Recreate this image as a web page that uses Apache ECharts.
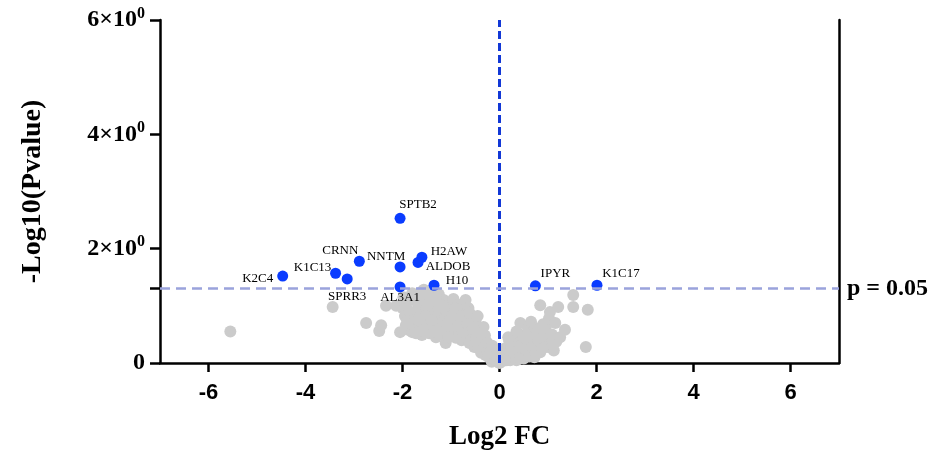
<!DOCTYPE html>
<html>
<head>
<meta charset="utf-8">
<script src="https://cdn.jsdelivr.net/npm/echarts@6/dist/echarts.min.js"></script>
<style>
  html, body { margin: 0; padding: 0; background: #fff; }
  #chart { width: 938px; height: 456px; }
</style>
</head>
<body>
<div id="chart"></div>
<script>
// significant proteins (blue)
const hitNames = ['SPTB2', 'CRNN', 'NNTM', 'H2AW', 'ALDOB', 'K1C13', 'K2C4', 'SPRR3', 'AL3A1', 'H10', 'IPYR', 'K1C17']
const hitX = [-2.05, -2.89, -2.05, -1.60, -1.68, -3.38, -4.47, -3.14, -2.05, -1.35, 0.74, 2.01]
const hitY = [2.53, 1.78, 1.68, 1.85, 1.76, 1.57, 1.52, 1.47, 1.33, 1.36, 1.35, 1.36]

// non significant proteins (grey) [log2FC, -log10 p]
const greyPoints = [
  [-5.55, 0.55], [-3.44, 0.98], [-2.75, 0.70], [-2.44, 0.66], [-2.48, 0.56],
  [-2.34, 1.00], [-2.00, 0.96], [-2.05, 0.54], [-2.13, 1.00],
  [-1.93, 1.00], [-1.95, 0.82], [-1.88, 0.58], [-1.85, 0.90], [-1.78, 1.10], [-1.75, 0.78],
  [-1.70, 0.92], [-1.70, 0.60], [-1.66, 1.01], [-1.65, 1.18], [-1.62, 0.85], [-1.58, 0.68],
  [-1.55, 1.10], [-1.56, 1.28], [-1.50, 0.95], [-1.48, 0.72], [-1.45, 0.52], [-1.42, 0.62],
  [-1.41, 1.19], [-1.38, 0.88], [-1.35, 1.25], [-1.30, 1.00], [-1.28, 0.75], [-1.25, 1.20],
  [-1.22, 0.60], [-1.20, 0.90], [-1.15, 1.10], [-1.12, 0.80], [-1.08, 0.68], [-1.05, 1.05],
  [-1.02, 0.55], [-1.00, 0.92], [-0.95, 1.12], [-0.95, 0.75], [-0.92, 0.62], [-0.88, 0.85],
  [-0.85, 1.02], [-0.82, 0.55], [-0.80, 0.70], [-0.78, 0.40], [-0.75, 0.90], [-0.72, 0.62],
  [-0.70, 1.10], [-0.68, 0.78], [-0.64, 0.96], [-0.62, 0.35], [-0.60, 0.55], [-0.58, 0.82],
  [-0.55, 0.45], [-0.52, 0.28], [-0.50, 0.72], [-0.45, 0.50], [-0.42, 0.38], [-0.40, 0.60],
  [-1.93, 0.66], [-1.80, 0.54], [-1.60, 0.49], [-1.31, 0.45], [-1.11, 0.35], [-0.90, 0.44],
  [-0.70, 0.49], [-0.49, 0.66], [-0.33, 0.63], [-0.43, 0.26], [-0.29, 0.14], [-0.16, 0.02],
  [-0.38, 0.18], [-0.35, 0.45], [-0.32, 0.30], [-0.28, 0.38], [-0.25, 0.22], [-0.22, 0.10],
  [-0.20, 0.30], [-0.18, 0.15], [-0.14, 0.22], [-0.12, 0.08], [-0.10, 0.15], [-0.08, 0.05],
  [-0.05, 0.10], [-0.03, 0.03], [0.00, 0.00],
  [-1.98, 1.15], [-1.90, 0.74], [-1.82, 0.68], [-1.80, 1.22], [-1.72, 0.52], [-1.68, 0.75],
  [-1.60, 1.25], [-1.55, 0.58], [-1.52, 0.82], [-1.45, 1.05], [-1.40, 0.75], [-1.35, 0.55],
  [-1.32, 1.12], [-1.25, 0.95], [-1.18, 0.50], [-1.18, 1.00], [-1.10, 0.92], [-1.05, 0.45],
  [-1.00, 0.65], [-0.98, 0.82], [-0.90, 0.95], [-0.85, 0.65], [-0.82, 0.45], [-0.78, 0.82],
  [-0.75, 0.55], [-0.65, 0.68], [-0.62, 0.88], [-0.58, 0.40], [-0.55, 0.62], [-0.48, 0.42],
  [-0.45, 0.82], [-0.38, 0.52], [-0.30, 0.48], [-0.25, 0.35], [-0.20, 0.18], [-0.15, 0.30],
  [-0.10, 0.22], [-0.06, 0.15],
  [0.03, 0.02], [0.05, 0.08], [0.08, 0.04], [0.10, 0.12], [0.12, 0.06], [0.15, 0.18],
  [0.18, 0.45], [0.18, 0.10], [0.20, 0.25], [0.22, 0.05], [0.25, 0.15], [0.28, 0.32],
  [0.30, 0.08], [0.32, 0.22], [0.35, 0.40], [0.38, 0.12], [0.43, 0.70], [0.40, 0.28],
  [0.42, 0.50], [0.45, 0.18], [0.48, 0.35], [0.50, 0.08], [0.52, 0.25], [0.55, 0.40],
  [0.59, 0.61], [0.58, 0.15], [0.60, 0.50], [0.62, 0.30], [0.65, 0.72],
  [0.68, 0.22], [0.70, 0.45], [0.72, 0.10], [0.74, 0.61], [0.76, 0.43],
  [0.78, 0.28], [0.80, 0.58], [0.82, 0.50], [0.84, 0.19], [0.86, 0.35], [0.84, 1.01],
  [0.90, 0.68], [0.92, 0.48], [0.95, 0.62], [0.98, 0.30], [1.00, 0.28], [1.02, 0.78],
  [1.04, 0.89], [1.08, 0.50], [1.10, 0.40], [1.12, 0.22], [1.15, 0.70], [1.17, 0.37],
  [1.21, 0.98], [1.25, 0.45], [1.35, 0.58], [1.52, 0.98], [1.52, 1.19],
  [1.82, 0.93], [1.78, 0.28],
  [0.05, 0.15], [0.10, 0.25], [0.15, 0.05], [0.20, 0.38], [0.25, 0.28], [0.30, 0.18],
  [0.35, 0.55], [0.35, 0.05], [0.42, 0.08], [0.45, 0.30], [0.50, 0.45], [0.55, 0.22],
  [0.62, 0.12], [0.65, 0.40], [0.70, 0.30], [0.75, 0.18], [0.80, 0.40], [0.88, 0.25]
]

const xTicks = [-6, -4, -2, 0, 2, 4, 6]
const yTicks = [0, 2, 4, 6]
const pThreshold = 1.3 // -log10(0.05)

// label offsets (px) so names sit like in the figure
const labelOffsets = {
  SPTB2: [18, -14], CRNN: [-19, -11], NNTM: [-14, -10], H2AW: [27, -6],
  ALDOB: [30, 4], K1C13: [-23, -6], K2C4: [-25, 2], SPRR3: [0, 18],
  AL3A1: [0, 11], H10: [23, -5], IPYR: [20, -12], K1C17: [24, -12]
}

const serif = 'Liberation Serif, Times New Roman, serif'

const chart = echarts.init(document.getElementById('chart'))

chart.setOption({
  animation: false,
  grid: { left: 160, right: 99, top: 20, bottom: 93 },
  xAxis: {
    type: 'value',
    min: -7,
    max: 7,
    name: 'Log2 FC',
    nameLocation: 'middle',
    nameGap: 61,
    nameTextStyle: { fontFamily: serif, fontWeight: 'bold', fontSize: 27, color: '#000' },
    axisLine: { onZero: false, lineStyle: { color: '#000', width: 2.5 } },
    axisTick: { show: true, length: 9, lineStyle: { color: '#000', width: 2.5 }, customValues: xTicks },
    axisLabel: {
      customValues: xTicks,
      margin: 19,
      fontFamily: 'Liberation Sans, Arial, sans-serif',
      fontWeight: 'bold',
      fontSize: 22,
      color: '#000'
    },
    splitLine: { show: false }
  },
  yAxis: [{
    type: 'value',
    min: 0,
    max: 6,
    name: '-Log10(Pvalue)',
    nameLocation: 'middle',
    nameGap: 113,
    nameTextStyle: { fontFamily: serif, fontWeight: 'bold', fontSize: 28, color: '#000' },
    axisLine: { onZero: false, lineStyle: { color: '#000', width: 2.5 } },
    axisTick: { show: true, length: 10, lineStyle: { color: '#000', width: 2.5 }, customValues: [0, pThreshold, 2, 4, 6] },
    axisLabel: {
      customValues: yTicks,
      margin: 15,
      formatter: v => v === 0 ? '{a|0}' : '{a|' + v + '×10}{s|0}',
      rich: {
        a: { fontFamily: serif, fontWeight: 'bold', fontSize: 24, color: '#000' },
        s: { fontFamily: serif, fontWeight: 'bold', fontSize: 16, color: '#000', padding: [0, 0, 13, 0] }
      }
    },
    splitLine: { show: false }
  }, {
    type: 'value',
    position: 'right',
    min: 0,
    max: 6,
    axisLine: { show: true, onZero: false, lineStyle: { color: '#000', width: 2.5 } },
    axisTick: { show: false },
    axisLabel: { show: false },
    splitLine: { show: false }
  }],
  series: [
    {
      // reference lines
      type: 'scatter',
      data: [],
      z: 1,
      markLine: {
        silent: true,
        symbol: 'none',
        animation: false,
        data: [
          {
            xAxis: 0,
            lineStyle: { color: '#1238d6', width: 3, type: [8, 4] },
            label: { show: false }
          },
          {
            yAxis: pThreshold,
            lineStyle: { color: '#9aa3dc', width: 2.5, type: [10, 6] },
            label: {
              show: true,
              position: 'end',
              distance: 8,
              formatter: 'p = 0.05',
              fontFamily: serif,
              fontWeight: 'bold',
              fontSize: 24,
              color: '#000'
            }
          }
        ]
      }
    },
    {
      type: 'scatter',
      data: greyPoints,
      symbolSize: 12,
      z: 2,
      itemStyle: { color: '#cbcbcb', opacity: 1 }
    },
    {
      type: 'scatter',
      z: 3,
      symbolSize: 11,
      itemStyle: { color: '#0a3cff', opacity: 1 },
      data: hitNames.map((n, i) => ({
        name: n,
        value: [hitX[i], hitY[i]],
        label: {
          show: true,
          position: 'inside',
          offset: labelOffsets[n],
          formatter: n,
          fontFamily: serif,
          fontSize: 13,
          color: '#000'
        }
      }))
    }
  ]
})
</script>
</body>
</html>
